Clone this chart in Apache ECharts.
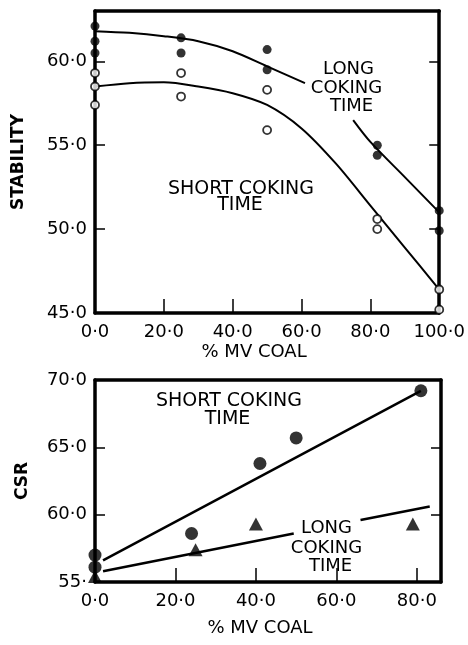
<!DOCTYPE html>
<html>
<head>
<meta charset="utf-8">
<script src="https://cdn.jsdelivr.net/npm/echarts@6/dist/echarts.min.js"></script>
<style>
  html, body { margin: 0; padding: 0; background: #fff; }
  #chart { width: 468px; height: 645px; }
</style>
</head>
<body>
<div id="chart"></div>
<script>
// ---- Upper panel: stability vs % MV coal ----
const topXTicks = [0, 20, 40, 60, 80, 100];
const topXLabels = ['0·0', '20·0', '40·0', '60·0', '80·0', '100·0'];
const topYTicks = [45, 50, 55, 60];
const topYLabels = ['45·0', '50·0', '55·0', '60·0'];

// measured stability, long coking time (filled) and short coking time (open)
const topLongX = [0, 0, 0, 25, 25, 50, 50, 82, 82, 100, 100];
const topLongY = [62.1, 61.2, 60.5, 61.4, 60.5, 60.7, 59.5, 55.0, 54.4, 51.1, 49.9];
const topShortX = [0, 0, 0, 25, 25, 50, 50, 82, 82, 100, 100];
const topShortY = [59.3, 58.5, 57.4, 59.3, 57.9, 58.3, 55.9, 50.6, 50.0, 46.4, 45.2];

// fitted trend curves (long curve is interrupted by its label)
const longCurveX1 = [0, 10, 20, 30, 40, 50, 61];
const longCurveY1 = [61.8, 61.7, 61.5, 61.2, 60.6, 59.7, 58.7];
const longCurveX2 = [75, 80, 90, 100];
const longCurveY2 = [56.5, 55.2, 53.1, 51.0];
const shortCurveX = [0, 10, 20, 30, 40, 50, 60, 70, 80, 90, 100];
const shortCurveY = [58.5, 58.7, 58.75, 58.5, 58.1, 57.4, 56.0, 53.9, 51.4, 48.9, 46.4];

// ---- Lower panel: CSR vs % MV coal ----
const botXTicks = [0, 20, 40, 60, 80];
const botXLabels = ['0·0', '20·0', '40·0', '60·0', '80·0'];
const botYTicks = [55, 60, 65, 70];
const botYLabels = ['55·', '60·0', '65·0', '70·0'];

const botShortX = [0, 0, 24, 41, 50, 81];
const botShortY = [57.0, 56.1, 58.6, 63.8, 65.7, 69.2];
const botLongX = [0, 25, 40, 79];
const botLongY = [55.4, 57.4, 59.3, 59.3];

const botShortLineX = [2, 81];
const botShortLineY = [56.6, 69.2];
const botLongLineX1 = [2, 49.4];
const botLongLineY1 = [55.8, 58.6];
const botLongLineX2 = [66, 83.2];
const botLongLineY2 = [59.6, 60.6];

const pairs = (xs, ys) => xs.map((x, i) => [x, ys[i]]);
const labelFor = (ticks, labels) => v => {
  const i = ticks.findIndex(t => Math.abs(t - v) < 1e-6);
  return i >= 0 ? labels[i] : '';
};

const FONT = 'DejaVu Sans';
const INK = '#000';
const frameLine = { show: true, onZero: false, lineStyle: { color: INK, width: 3.5 } };
const tickLabel = { color: '#000', fontFamily: FONT, fontSize: 18 };

function xAxisPair(gridIndex, max, ticks, labels, nameGap, namePad) {
  return [
    {
      type: 'value', gridIndex, position: 'bottom', min: 0, max, interval: 20,
      axisLine: frameLine,
      axisTick: { show: true, inside: true, length: 14, lineStyle: { color: INK, width: 1.5 } },
      axisLabel: Object.assign({ margin: 10, formatter: labelFor(ticks, labels) }, tickLabel),
      splitLine: { show: false },
      name: '% MV COAL', nameLocation: 'middle', nameGap,
      nameTextStyle: { color: '#000', fontFamily: FONT, fontSize: 18, padding: namePad }
    },
    {
      type: 'value', gridIndex, position: 'top', min: 0, max, interval: 20,
      axisLine: frameLine, axisTick: { show: false }, axisLabel: { show: false },
      splitLine: { show: false }
    }
  ];
}

function yAxisPair(gridIndex, min, max, ticks, labels, name, nameGap) {
  return [
    {
      type: 'value', gridIndex, position: 'left', min, max, interval: 5,
      axisLine: frameLine,
      axisTick: { show: true, inside: true, length: 10, lineStyle: { color: INK, width: 1.5 } },
      axisLabel: Object.assign({ margin: 8, formatter: labelFor(ticks, labels) }, tickLabel),
      splitLine: { show: false },
      name, nameLocation: 'middle', nameGap, nameRotate: 90,
      nameTextStyle: { color: '#000', fontFamily: FONT, fontSize: 17, fontWeight: 'bold' }
    },
    {
      type: 'value', gridIndex, position: 'right', min, max, interval: 5,
      axisLine: frameLine,
      axisTick: { show: true, inside: true, length: 10, lineStyle: { color: INK, width: 1.5 } },
      axisLabel: { show: false }, splitLine: { show: false }
    }
  ];
}

function curve(xi, yi, data, width) {
  return {
    type: 'line', xAxisIndex: xi, yAxisIndex: yi, data, smooth: 0.3,
    showSymbol: false, symbol: 'none', silent: true, z: 2,
    lineStyle: { color: INK, width }
  };
}

function dots(xi, yi, data, opts) {
  return Object.assign({
    type: 'scatter', xAxisIndex: xi, yAxisIndex: yi, data, z: 5, silent: true
  }, opts);
}

function note(lines, fontSize) {
  return lines.map(([text, x, y]) => ({
    type: 'text', x, y, z: 10, silent: true,
    style: {
      text, fill: '#000', font: fontSize + 'px "' + FONT + '"',
      textAlign: 'center', textVerticalAlign: 'middle'
    }
  }));
}

const chart = echarts.init(document.getElementById('chart'), null, { renderer: 'canvas' });

chart.setOption({
  backgroundColor: '#fff',
  animation: false,
  grid: [
    { left: 95, top: 11, width: 345, height: 302 },
    { left: 95, top: 380, width: 346, height: 202 }
  ],
  xAxis: [
    ...xAxisPair(0, 100, topXTicks, topXLabels, 30, [0, 26, 0, 0]),
    ...xAxisPair(1, 86, botXTicks, botXLabels, 37, [0, 16, 0, 0])
  ],
  yAxis: [
    ...yAxisPair(0, 45, 63, topYTicks, topYLabels, 'STABILITY', 68),
    ...yAxisPair(1, 55, 70, botYTicks, botYLabels, 'CSR', 64)
  ],
  series: [
    curve(0, 0, pairs(longCurveX1, longCurveY1), 2),
    curve(0, 0, pairs(longCurveX2, longCurveY2), 2),
    curve(0, 0, pairs(shortCurveX, shortCurveY), 2),
    dots(0, 0, pairs(topLongX, topLongY), {
      symbol: 'circle', symbolSize: 9, itemStyle: { color: INK }
    }),
    dots(0, 0, pairs(topShortX, topShortY), {
      symbol: 'circle', symbolSize: 8,
      itemStyle: { color: '#fff', borderColor: INK, borderWidth: 1.8 }
    }),

    curve(2, 2, pairs(botShortLineX, botShortLineY), 2.5),
    curve(2, 2, pairs(botLongLineX1, botLongLineY1), 2.5),
    curve(2, 2, pairs(botLongLineX2, botLongLineY2), 2.5),
    dots(2, 2, pairs(botShortX, botShortY), {
      symbol: 'circle', symbolSize: 13, itemStyle: { color: INK }
    }),
    dots(2, 2, pairs(botLongX, botLongY), {
      symbol: 'triangle', symbolSize: [14, 13], itemStyle: { color: INK }
    })
  ],
  graphic: [
    ...note([['SHORT COKING', 241, 189], ['TIME', 240, 205.5]], 19),
    ...note([['LONG', 348.5, 69.5], ['COKING', 346.5, 88], ['TIME', 351.5, 106.5]], 18),
    ...note([['SHORT COKING', 229, 401.5], ['TIME', 227.5, 419]], 19),
    ...note([['LONG', 326.5, 528], ['COKING', 326.5, 548], ['TIME', 330.5, 566]], 18)
  ]
});
</script>
</body>
</html>
